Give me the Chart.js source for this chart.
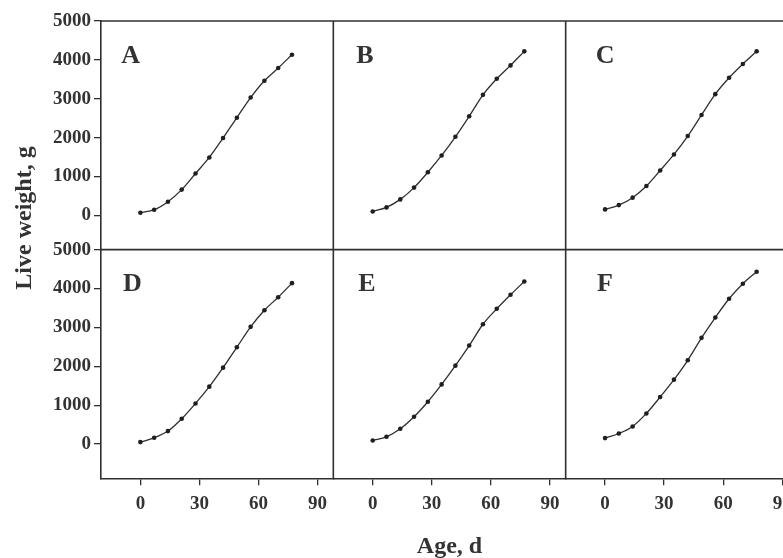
<!DOCTYPE html>
<html>
<head>
<meta charset="utf-8">
<script src="https://cdn.jsdelivr.net/npm/chart.js"></script>
<style>
  html, body { margin: 0; padding: 0; background: #fff; overflow: hidden; }
  #wrap { position: relative; width: 820px; height: 558px; }
</style>
</head>
<body>
<div id="wrap"><canvas id="growth" width="820" height="558"></canvas></div>
<script>
// age of the birds, days (same for every panel)
const ages = [0, 7, 14, 21, 28, 35, 42, 49, 56, 63, 70, 77];
const xTicks = [0, 30, 60, 90];
const yTicks = [0, 1000, 2000, 3000, 4000, 5000];
const panelNames = ['A', 'B', 'C', 'D', 'E', 'F'];

// live weight, g
const weightA = [70, 147, 354, 664, 1078, 1491, 1990, 2514, 3031, 3463, 3791, 4134];
const weightB = [103, 207, 413, 716, 1111, 1543, 2023, 2550, 3101, 3514, 3858, 4220];
const weightC = [155, 266, 457, 757, 1155, 1568, 2041, 2584, 3119, 3540, 3894, 4220];
const weightD = [52, 162, 335, 652, 1046, 1477, 1966, 2490, 3015, 3443, 3778, 4139];
const weightE = [93, 188, 394, 704, 1090, 1536, 2018, 2534, 3082, 3479, 3840, 4183];
const weightF = [155, 273, 454, 789, 1211, 1657, 2155, 2732, 3255, 3737, 4124, 4433];

const ink = '#2f2f2f';
const serif = '"Liberation Serif", "Times New Roman", serif';
const tickFont = { family: serif, weight: 'bold', size: 19 };

// panel grid: columns share x axes, rows share y axes
const panels = [
  { data: weightA, x: 'x1', y: 'yTop' },
  { data: weightB, x: 'x2', y: 'yTop' },
  { data: weightC, x: 'x3', y: 'yTop' },
  { data: weightD, x: 'x1', y: 'yBot' },
  { data: weightE, x: 'x2', y: 'yBot' },
  { data: weightF, x: 'x3', y: 'yBot' }
];
// where the panel letters sit, in data units
const letterPos = [[-5, 4100], [-4, 4100], [0, 4100], [-4, 4100], [-3, 4100], [0, 4100]];

function xAxis(title) {
  return {
    type: 'linear', position: 'bottom', stack: 'cols', min: -20, max: 98,
    afterBuildTicks: s => { s.ticks = xTicks.map(v => ({ value: v })); },
    grid: { drawOnChartArea: false, drawTicks: true, tickLength: 7, color: ink, lineWidth: 1.3 },
    border: { display: true, color: ink, width: 1.6 },
    ticks: { color: '#333', font: tickFont, padding: 7, maxRotation: 0, autoSkip: false, callback: v => v },
    title: {
      display: !!title, text: title || '', color: '#333',
      font: { family: serif, weight: 'bold', size: 24 }, padding: { top: 10, bottom: 0 }
    }
  };
}

function yAxis() {
  return {
    type: 'linear', position: 'left', stack: 'rows', min: -880, max: 5000,
    afterBuildTicks: s => { s.ticks = yTicks.map(v => ({ value: v })); },
    grid: { drawOnChartArea: false, drawTicks: true, tickLength: 7, color: ink, lineWidth: 1.3 },
    border: { display: true, color: ink, width: 1.6 },
    ticks: { color: '#333', font: tickFont, padding: 3, autoSkip: false, callback: v => v }
  };
}

// panel frames, letters and the shared y title
const framePlugin = {
  id: 'frames',
  afterDraw(chart) {
    const { ctx, chartArea: a } = chart;
    ctx.save();
    ctx.strokeStyle = ink;
    ctx.lineWidth = 1.6;
    Object.values(chart.scales).forEach(s => {
      ctx.beginPath();
      if (s.axis === 'x') {
        ctx.moveTo(s.right, a.top);
        ctx.lineTo(s.right, a.bottom);
      } else {
        ctx.moveTo(a.left, s.top);
        ctx.lineTo(a.right, s.top);
      }
      ctx.stroke();
    });

    ctx.fillStyle = '#333';
    ctx.font = 'bold 26px ' + serif;
    ctx.textAlign = 'center';
    ctx.textBaseline = 'middle';
    panels.forEach((p, i) => {
      const xs = chart.scales[p.x], ys = chart.scales[p.y];
      ctx.fillText(panelNames[i], xs.getPixelForValue(letterPos[i][0]), ys.getPixelForValue(letterPos[i][1]));
    });

    ctx.translate(25, 218);
    ctx.rotate(-Math.PI / 2);
    ctx.font = 'bold 24px ' + serif;
    ctx.fillText('Live weight, g', 0, 0);
    ctx.restore();
  }
};

new Chart(document.getElementById('growth'), {
  type: 'line',
  data: {
    datasets: panels.map((p, i) => ({
      label: panelNames[i],
      data: ages.map((a, k) => ({ x: a, y: p.data[k] })),
      xAxisID: p.x,
      yAxisID: p.y,
      borderColor: ink,
      borderWidth: 1.3,
      cubicInterpolationMode: 'monotone',
      pointRadius: 2.3,
      pointBackgroundColor: '#1f1f1f',
      pointBorderWidth: 0,
      fill: false
    }))
  },
  options: {
    responsive: false,
    animation: false,
    devicePixelRatio: 1,
    layout: { padding: { left: 50, top: 21, right: 22, bottom: 10 } },
    plugins: { legend: { display: false }, tooltip: { enabled: false } },
    scales: {
      x1: xAxis(),
      x2: xAxis('Age, d'),
      x3: xAxis(),
      yBot: yAxis(),
      yTop: yAxis()
    }
  },
  plugins: [framePlugin]
});
</script>
</body>
</html>
